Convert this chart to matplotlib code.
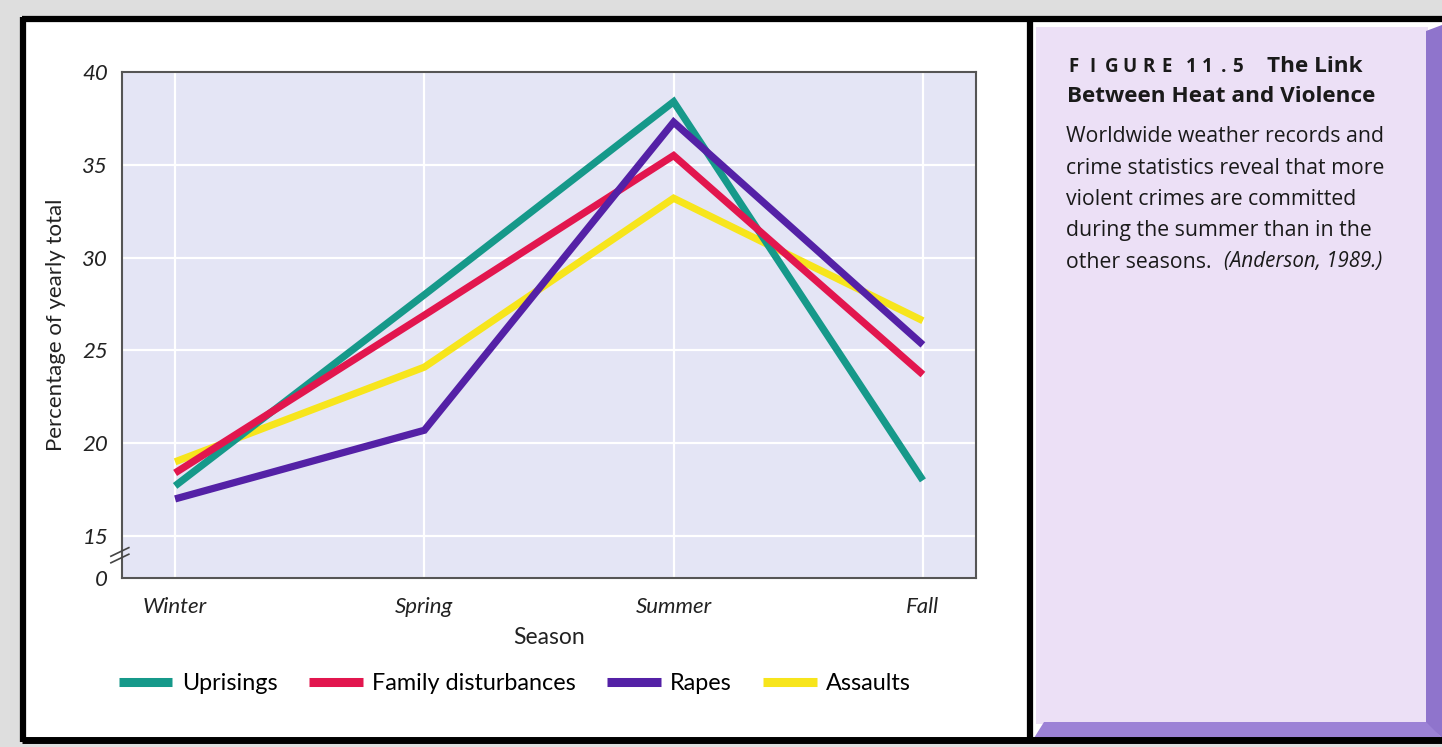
import matplotlib
matplotlib.use("Agg")
import matplotlib.pyplot as plt
from matplotlib.patches import Rectangle, Polygon
from matplotlib.lines import Line2D

# data (percentage of yearly total)
seasons = ["Winter", "Spring", "Summer", "Fall"]
uprisings = [17.7, 28.0, 38.4, 18.0]
family = [18.4, 26.9, 35.5, 23.7]
rapes = [17.0, 20.7, 37.3, 25.3]
assaults = [19.0, 24.1, 33.2, 26.6]
series_names = ["Uprisings", "Family disturbances", "Rapes", "Assaults"]
y_ticks = [15, 20, 25, 30, 35, 40]
y_floor = 12.74  # where the broken axis shows "0"

colors = {"Uprisings": "#16998a", "Family disturbances": "#e2164e",
          "Rapes": "#5421a6", "Assaults": "#f7e51c"}

W, H = 1442, 747
fig = plt.figure(figsize=(W / 100, H / 100), dpi=100)
fig.patch.set_facecolor("#dedede")

# background layer in pixel coordinates
bg = fig.add_axes([0, 0, 1, 1], zorder=0)
bg.set_xlim(0, W)
bg.set_ylim(H, 0)
bg.axis("off")

bg.add_patch(Rectangle((22, 19), W - 22, 722, facecolor="white", edgecolor="none"))
# caption panel
bg.add_patch(Rectangle((1036, 27), 392, 697, facecolor="#ece0f6", edgecolor="none"))
bg.add_patch(Polygon([(1426, 31), (1442, 25), (1442, 738), (1426, 724)],
                     facecolor="#8f74cc", edgecolor="none"))
bg.add_patch(Polygon([(1044, 722), (1426, 722), (1442, 738), (1034, 738)],
                     facecolor="#9c82d6", edgecolor="none"))
# black frame
bg.plot([22, W], [19, 19], color="black", lw=4.5, solid_capstyle="butt")
bg.plot([22, W], [740, 740], color="black", lw=5, solid_capstyle="butt")
bg.plot([23, 23], [17, 742], color="black", lw=4.5, solid_capstyle="butt")
bg.plot([1030, 1030], [17, 742], color="black", lw=4.5, solid_capstyle="butt")

# caption text
cap_font = ["Open Sans", "DejaVu Sans"]
ink = "#1a1a1a"
# letter-spaced figure number, one glyph at a time
for word, x0 in (("FIGURE", 1074), ("11.5", 1191)):
    xc = x0
    for ch in word:
        bg.text(xc, 67, ch, fontsize=13.5, fontweight="bold",
                family=cap_font, color=ink, va="center", ha="center")
        xc += 18.6 if word == "FIGURE" else (13.5 if ch == "." or xc > 1215 else 16.5)
bg.text(1267, 66, "The Link", fontsize=16.2, fontweight="bold",
        family=cap_font, color=ink, va="center", ha="left")
bg.text(1067, 96, "Between Heat and Violence", fontsize=16.2, fontweight="bold",
        family=cap_font, color=ink, va="center", ha="left")
body = ["Worldwide weather records and",
        "crime statistics reveal that more",
        "violent crimes are committed",
        "during the summer than in the"]
for i, line in enumerate(body):
    bg.text(1066, 137 + i * 31.2, line, fontsize=15.3, family=cap_font,
            color=ink, va="center", ha="left")
bg.text(1066, 262, "other seasons.", fontsize=15.3, family=cap_font,
        color=ink, va="center", ha="left")
bg.text(1224, 262, "(Anderson, 1989.)", fontsize=14.8, family=cap_font,
        style="italic", color=ink, va="center", ha="left")

# chart
ax = fig.add_axes([122 / W, 1 - 578 / H, 854 / W, 506 / H], zorder=1)
ax.set_facecolor("#e4e5f5")
x = list(range(len(seasons)))
data = {"Uprisings": uprisings, "Family disturbances": family,
        "Rapes": rapes, "Assaults": assaults}
for name in ["Assaults", "Uprisings", "Family disturbances", "Rapes"]:
    ax.plot(x, data[name], color=colors[name], lw=5.2,
            solid_capstyle="butt", solid_joinstyle="miter", zorder=3)

ax.set_xlim(-0.213, 3.213)
ax.set_ylim(y_floor, 40)
ax.set_xticks(x)
ax.set_xticklabels(seasons)
ax.set_yticks([y_floor] + y_ticks)
ax.set_yticklabels(["0"] + [str(v) for v in y_ticks])
tick_font = ["Lato", "DejaVu Sans"]
ax.tick_params(length=0, labelsize=16, colors="#222222")
ax.tick_params(axis="y", pad=10)
ax.tick_params(axis="x", pad=14)
for lab in ax.get_xticklabels() + ax.get_yticklabels():
    lab.set_style("italic")
    lab.set_family(tick_font)
ax.grid(True, color="white", lw=1.6)
ax.set_axisbelow(True)
for sp in ax.spines.values():
    sp.set_color("#555555")
    sp.set_linewidth(1.5)

ax.set_xlabel("Season", fontsize=16.5, family=tick_font, color="#222222", labelpad=7)
ax.set_ylabel("Percentage of yearly total", fontsize=16, family=tick_font,
              color="#222222", labelpad=12)

# axis break marks
for dy in (0.0, 0.013):
    ax.plot([-0.013, 0.008], [0.030 + dy, 0.047 + dy], transform=ax.transAxes,
            color="#444444", lw=1.2, clip_on=False, zorder=5)

# legend
handles = [Line2D([0], [0], color=colors[n], lw=6.5, solid_capstyle="butt")
           for n in series_names]
fig.legend(handles, series_names, loc="center", ncol=4, frameon=False,
           bbox_to_anchor=(515 / W, 1 - 684 / H),
           handlelength=2.3, handletextpad=0.4, columnspacing=1.35,
           prop={"family": tick_font, "size": 16.8})

fig.savefig("out.png", dpi=100, facecolor=fig.get_facecolor())
